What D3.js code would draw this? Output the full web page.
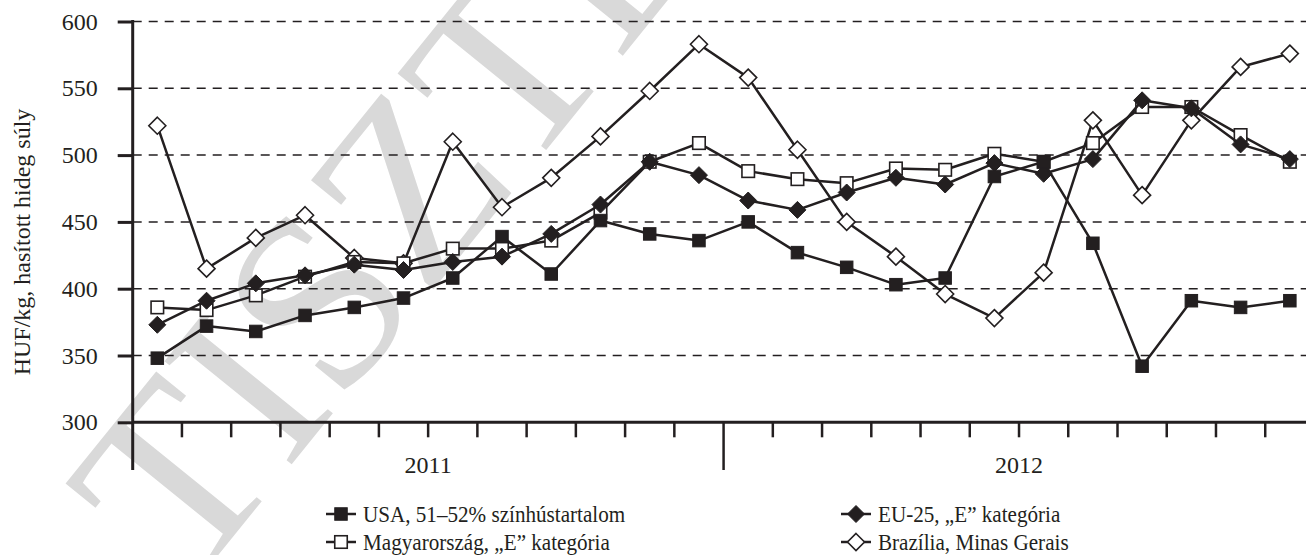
<!DOCTYPE html>
<html>
<head>
<meta charset="utf-8">
<script src="https://cdn.jsdelivr.net/npm/d3@7"></script>
<style>
  body { margin: 0; background: #fff; }
  text { font-family: "Liberation Serif", "Times New Roman", serif; fill: #231f20; }
</style>
</head>
<body>
<div id="chart"></div>
<script>
// Months of the two years (band categories)
var months = ['2011-01','2011-02','2011-03','2011-04','2011-05','2011-06',
              '2011-07','2011-08','2011-09','2011-10','2011-11','2011-12',
              '2012-01','2012-02','2012-03','2012-04','2012-05','2012-06',
              '2012-07','2012-08','2012-09','2012-10','2012-11','2012-12'];
var years = ['2011', '2012'];
var yTicks = [300, 350, 400, 450, 500, 550, 600];

// Series values, HUF/kg
var usa = [348, 372, 368, 380, 386, 393, 408, 439, 411, 451, 441, 436,
           450, 427, 416, 403, 408, 484, 495, 434, 342, 391, 386, 391];
var eu25 = [373, 391, 404, 410, 418, 414, 420, 424, 441, 463, 495, 485,
            466, 459, 472, 483, 478, 494, 486, 497, 541, 535, 508, 497];
var magyar = [386, 384, 395, 409, 420, 419, 430, 430, 436, 457, 495, 509,
              488, 482, 479, 490, 489, 501, 495, 509, 536, 536, 515, 495];
var brazil = [522, 415, 438, 455, 423, 419, 510, 461, 483, 514, 548, 583,
              558, 504, 450, 424, 396, 378, 412, 526, 470, 526, 566, 576];

var seriesNames = ['USA, 51\u201352% sz\u00ednh\u00fastartalom',
                   'EU-25, \u201eE\u201d kateg\u00f3ria',
                   'Magyarorsz\u00e1g, \u201eE\u201d kateg\u00f3ria',
                   'Braz\u00edlia, Minas Gerais'];

var width = 1306, height = 555;
var ink = '#231f20';

var svg = d3.select('#chart').append('svg')
  .attr('width', width)
  .attr('height', height);

// Watermark behind everything
svg.append('text')
  .attr('transform', 'translate(190,590) rotate(-51)')
  .style('font-size', '250px')
  .style('fill', '#d9d9d9')
  .text('TISZTELETP\u00c9LD\u00c1NY');

var x = d3.scaleBand().domain(months).range([132.7, 132.7 + 24 * 49.24]);
var y = d3.scaleLinear().domain([300, 600]).range([422.3, 21.5]);

// Dashed gridlines
svg.selectAll('.grid').data(yTicks.slice(1)).enter().append('line')
  .attr('class', 'grid')
  .attr('x1', x.range()[0]).attr('x2', width)
  .attr('y1', function(d){ return y(d); }).attr('y2', function(d){ return y(d); })
  .attr('stroke', ink).attr('stroke-width', 1.5)
  .attr('stroke-dasharray', '9,7');

// Y axis
var yAxis = d3.axisLeft(y).tickValues(yTicks).tickSize(15).tickPadding(20);
var gy = svg.append('g').attr('transform', 'translate(' + x.range()[0] + ',0)').call(yAxis);
gy.select('.domain').remove();
gy.selectAll('.tick line').attr('stroke', ink).attr('stroke-width', 3);
gy.selectAll('.tick text').style('font-size', '24px').attr('font-family', null);
svg.append('line')
  .attr('x1', x.range()[0]).attr('x2', x.range()[0])
  .attr('y1', y(600) - 1.5).attr('y2', 470)
  .attr('stroke', ink).attr('stroke-width', 3);

// X axis: baseline with month ticks between bands
svg.append('line')
  .attr('x1', x.range()[0]).attr('x2', width)
  .attr('y1', y(300)).attr('y2', y(300))
  .attr('stroke', ink).attr('stroke-width', 3);
svg.selectAll('.mtick').data(months.slice(1)).enter().append('line')
  .attr('class', 'mtick')
  .attr('x1', function(d){ return x(d); }).attr('x2', function(d){ return x(d); })
  .attr('y1', y(300))
  .attr('y2', function(d){ return d === '2012-01' ? 470 : y(300) + 15; })
  .attr('stroke', ink).attr('stroke-width', 2.5);

// Year labels centered on their 12 months
svg.selectAll('.year').data(years).enter().append('text')
  .attr('class', 'year')
  .attr('x', function(d){ return x(d + '-01') + x.step() * 6; })
  .attr('y', 473)
  .attr('text-anchor', 'middle')
  .style('font-size', '24px')
  .text(function(d){ return d; });

// Y axis title
svg.append('text')
  .attr('transform', 'translate(30,242) rotate(-90)')
  .attr('text-anchor', 'middle')
  .style('font-size', '24px')
  .text('HUF/kg, has\u00edtott hideg s\u00faly');

// Marker shapes
var sq = 12.5, dia = 8.5;
function drawMarker(g, shape, filled) {
  if (shape === 'square') {
    g.append('rect')
      .attr('x', -sq / 2).attr('y', -sq / 2).attr('width', sq).attr('height', sq)
      .attr('fill', filled ? ink : '#fff')
      .attr('stroke', ink).attr('stroke-width', filled ? 1 : 1.6);
  } else {
    g.append('path')
      .attr('d', 'M0,' + (-dia) + 'L' + dia + ',0L0,' + dia + 'L' + (-dia) + ',0Z')
      .attr('fill', filled ? ink : '#fff')
      .attr('stroke', ink).attr('stroke-width', filled ? 1 : 1.6);
  }
}

var series = [
  { name: seriesNames[3], values: brazil, shape: 'diamond', filled: false },
  { name: seriesNames[2], values: magyar, shape: 'square', filled: false },
  { name: seriesNames[1], values: eu25, shape: 'diamond', filled: true },
  { name: seriesNames[0], values: usa, shape: 'square', filled: true }
];

var line = d3.line()
  .x(function(d, i){ return x(months[i]) + x.bandwidth() / 2; })
  .y(function(d){ return y(d); });

series.forEach(function(s) {
  svg.append('path')
    .attr('d', line(s.values))
    .attr('fill', 'none')
    .attr('stroke', ink)
    .attr('stroke-width', 2.5)
    .attr('stroke-linejoin', 'round');
  svg.append('g').selectAll('g').data(s.values).enter().append('g')
    .attr('transform', function(d, i){
      return 'translate(' + (x(months[i]) + x.bandwidth() / 2) + ',' + y(d) + ')';
    })
    .each(function(){ drawMarker(d3.select(this), s.shape, s.filled); });
});

// Legend (its type is set a little condensed, as in the original)
var legendItems = [
  { name: seriesNames[0], shape: 'square', filled: true, lx: 341, ly: 514 },
  { name: seriesNames[1], shape: 'diamond', filled: true, lx: 856, ly: 514 },
  { name: seriesNames[2], shape: 'square', filled: false, lx: 341, ly: 542 },
  { name: seriesNames[3], shape: 'diamond', filled: false, lx: 856, ly: 542 }
];
legendItems.forEach(function(it) {
  var g = svg.append('g').attr('transform', 'translate(' + it.lx + ',' + it.ly + ')');
  g.append('line').attr('x1', -15).attr('x2', 15)
    .attr('stroke', ink).attr('stroke-width', 2.5);
  drawMarker(g, it.shape, it.filled);
  var t = g.append('text').attr('x', 22).attr('y', 8)
    .style('font-size', '24px')
    .text(it.name);
  var w = t.node().getComputedTextLength();
  t.attr('textLength', w * 0.88).attr('lengthAdjust', 'spacingAndGlyphs');
});
</script>
</body>
</html>
